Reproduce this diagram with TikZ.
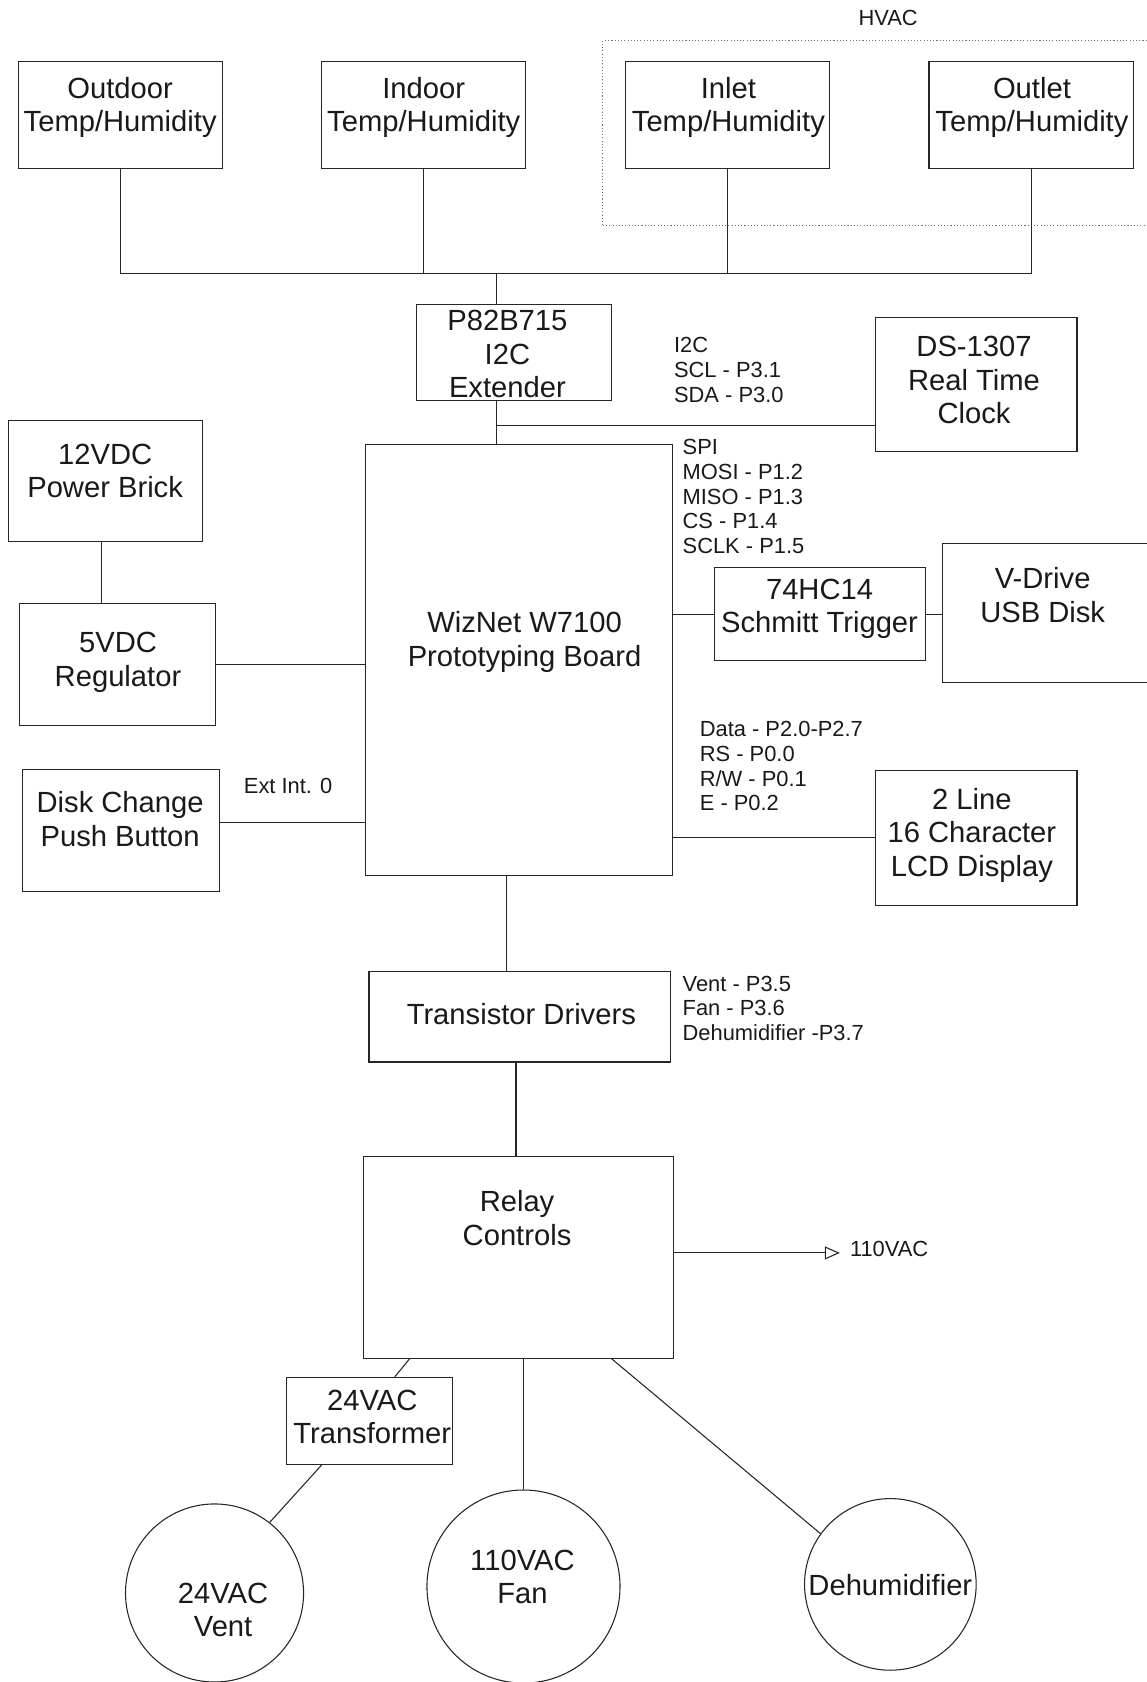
\documentclass[tikz,border=0pt]{standalone}
\usepackage{fontspec}
\setmainfont{Liberation Sans}
\usetikzlibrary{fit,arrows.meta}
\begin{document}
\begin{tikzpicture}[x=0.5pt,y=-0.5pt,
  box/.style={draw=black!85, line width=0.5pt, inner sep=0pt},
  hvacbox/.style={draw=black!55, line width=0.5pt, densely dotted, inner sep=0pt},
  circ/.style={draw=black!85, line width=0.5pt, circle, inner sep=0pt},
  big/.style={font=\fontsize{13.6}{15.7}\selectfont, align=center, inner sep=0pt, anchor=base, text=black!90},
  small/.style={font=\fontsize{10.2}{11.5}\selectfont, align=left, inner sep=0pt, anchor=base west, text=black!90},
  wire/.style={draw=black!85, line width=0.5pt}]
\useasboundingbox (0,0) rectangle (1069,1568);

% HVAC group
\node[small, anchor=base] (hvaclbl) at (828,24) {HVAC};
\node[hvacbox, fit={(562,38) (1085,210)}] (hvac) {};

% boxes
\node[box, fit={(17,57) (207,157)}] (outdoor) {};
\node[box, fit={(300,57) (490,157)}] (indoor) {};
\node[box, fit={(583,57) (773,157)}] (inlet) {};
\node[box, fit={(866,57) (1057,157)}] (outlet) {};
\node[box, fit={(388,284) (570,373)}] (ext) {};
\node[box, fit={(816,296) (1004,421)}] (rtc) {};
\node[box, fit={(8,392) (189,505)}] (brick) {};
\node[box, fit={(341,414) (627,816)}] (wiz) {};
\node[box, fit={(666,529) (863,616)}] (schmitt) {};
\node[box, fit={(879,507) (1080,636)}] (vdrive) {};
\node[box, fit={(18,563) (201,676)}] (reg) {};
\node[box, fit={(21,717) (205,831)}] (disk) {};
\node[box, fit={(816,718) (1004,844)}] (lcd) {};
\node[box, fit={(344,906) (625,990)}] (drv) {};
\node[box, fit={(339,1078) (628,1266)}] (relay) {};
\node[box, fit={(267,1284) (422,1365)}] (trans) {};

% circles
\node[circ, minimum size=83pt] (vent) at (200,1485) {};
\node[circ, minimum size=90pt] (fan) at (488,1479) {};
\node[circ, minimum size=80pt] (dehum) at (830,1477) {};

% box texts (position = baseline of the last line)
\node[big] (t-outdoor) at (112,123) {Outdoor\\Temp/Humidity};
\node[big] (t-indoor) at (395,123) {Indoor\\Temp/Humidity};
\node[big] (t-inlet) at (679,123) {Inlet\\Temp/Humidity};
\node[big] (t-outlet) at (962,123) {Outlet\\Temp/Humidity};
\node[big] (t-ext) at (473,371) {P82B715\\I2C\\Extender};
\node[big] (t-rtc) at (908,395) {DS-1307\\Real Time\\Clock};
\node[big] (t-brick) at (98,464) {12VDC\\Power Brick};
\node[big] (t-wiz) at (489,621) {WizNet W7100\\Prototyping Board};
\node[big] (t-schmitt) at (764,590) {74HC14\\Schmitt Trigger};
\node[big] (t-vdrive) at (972,580) {V-Drive\\USB Disk};
\node[big] (t-reg) at (110,640) {5VDC\\Regulator};
\node[big] (t-disk) at (112,789) {Disk Change\\Push Button};
\node[big] (t-lcd) at (906,817) {2 Line\\16 Character\\LCD Display};
\node[big] (t-drv) at (486,955) {Transistor Drivers};
\node[big] (t-relay) at (482,1161) {Relay\\Controls};
\node[big] (t-trans) at (347,1346) {24VAC\\Transformer};
\node[big] (t-vent) at (208,1526) {24VAC\\Vent};
\node[big] (t-fan) at (487,1495) {110VAC\\Fan};
\node[big] (t-dehum) at (830,1487) {Dehumidifier};

% labels (position = baseline of the last line)
\node[small] (l-i2c) at (628,375) {I2C\\SCL - P3.1\\SDA - P3.0};
\node[small] (l-spi) at (636,516) {SPI\\MOSI - P1.2\\MISO - P1.3\\CS - P1.4\\SCLK - P1.5};
\node[small] (l-lcd) at (652,756) {Data - P2.0-P2.7\\RS - P0.0\\R/W - P0.1\\E - P0.2};
\node[small] (l-int) at (227,740) {Ext Int. 0};
\node[small] (l-drv) at (636,970) {Vent - P3.5\\Fan - P3.6\\Dehumidifier -P3.7};

% connectors
\coordinate (bus) at (463,255);
\draw[wire] (outdoor.south) -- (outdoor.south |- bus) -- (outlet.south |- bus) -- (outlet.south);
\draw[wire] (indoor.south) -- (indoor.south |- bus);
\draw[wire] (inlet.south) -- (inlet.south |- bus);
\draw[wire] (bus) -- (bus |- ext.north);
\coordinate (i2cj) at (463,397);
\draw[wire] (i2cj |- ext.south) -- (i2cj |- wiz.north);
\draw[wire] (i2cj) -- (i2cj -| rtc.west);
\draw[wire] (schmitt.west) -- (schmitt.west -| wiz.east);
\draw[wire] (schmitt.east) -- (schmitt.east -| vdrive.west);
\coordinate (pwr) at (95,530);
\draw[wire] (pwr |- brick.south) -- (pwr |- reg.north);
\draw[wire] (reg.east) -- (reg.east -| wiz.west);
\coordinate (intj) at (200,767);
\draw[wire] (intj -| disk.east) -- (intj -| wiz.west);
\draw[wire] (lcd.west) -- (lcd.west -| wiz.east);
\coordinate (wd) at (472,860);
\draw[wire] (wd |- wiz.south) -- (wd |- drv.north);
\coordinate (dr) at (481,1030);
\draw[wire] (dr |- drv.south) -- (dr |- relay.north);
\coordinate (acj) at (700,1168);
\coordinate (ac110) at (783,1168);
\draw[wire, -{Triangle[open,length=7pt,width=6pt]}] (acj -| relay.east) -- (ac110);
\node[small] (l-110) at (792,1171) {110VAC};
\coordinate (rt) at (382,1270);
\coordinate (tr) at (368,1280);
\draw[wire] (rt |- relay.south) -- (tr |- trans.north);
\coordinate (tb) at (300,1370);
\draw[wire] (tb |- trans.south) -- (vent.52);
\draw[wire] (fan.north) -- (fan.north |- relay.south);
\coordinate (dh) at (570,1270);
\draw[wire] (dh |- relay.south) -- (dehum.144);
\end{tikzpicture}
\end{document}
